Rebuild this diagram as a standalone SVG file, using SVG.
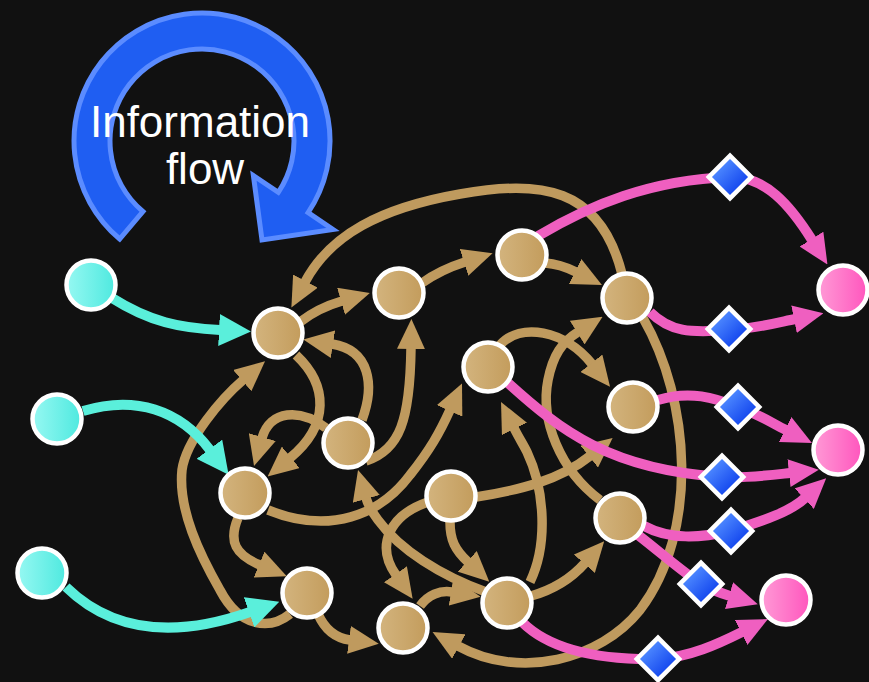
<svg xmlns="http://www.w3.org/2000/svg" width="869" height="682" viewBox="0 0 869 682">
<defs>
<linearGradient id="gGold" x1="0" y1="0" x2="1" y2="0"><stop offset="0" stop-color="#d3b47e"/><stop offset="1" stop-color="#c39c5c"/></linearGradient>
<linearGradient id="gCyan" x1="0" y1="0" x2="1" y2="0"><stop offset="0" stop-color="#96f8f2"/><stop offset="1" stop-color="#4ee9df"/></linearGradient>
<linearGradient id="gPink" x1="0" y1="0" x2="1" y2="0"><stop offset="0" stop-color="#ff9ad6"/><stop offset="1" stop-color="#ff55bd"/></linearGradient>
<linearGradient id="gBlue" x1="0" y1="0" x2="1" y2="0"><stop offset="0" stop-color="#4d88ff"/><stop offset="1" stop-color="#1447ee"/></linearGradient>
<marker id="aGold" viewBox="0 0 30 28" refX="1" refY="14" markerWidth="30" markerHeight="28" markerUnits="userSpaceOnUse" orient="auto"><path d="M0,0 L30,14 L0,28 Z" fill="#bf9a5e"/></marker>
<marker id="aPink" viewBox="0 0 30 28" refX="1" refY="14" markerWidth="30" markerHeight="28" markerUnits="userSpaceOnUse" orient="auto"><path d="M0,0 L30,14 L0,28 Z" fill="#ef5fc0"/></marker>
<marker id="aCyan" viewBox="0 0 32 32" refX="1" refY="16" markerWidth="32" markerHeight="32" markerUnits="userSpaceOnUse" orient="auto"><path d="M0,0 L32,16 L0,32 Z" fill="#5aefdb"/></marker>
</defs>
<style>
.eg{fill:none;stroke:#bf9a5e;stroke-width:9.5;marker-end:url(#aGold)}
.ep{fill:none;stroke:#ef5fc0;stroke-width:10}
.epa{marker-end:url(#aPink)}
.ec{fill:none;stroke:#5aefdb;stroke-width:10;marker-end:url(#aCyan)}
.ng{fill:url(#gGold);stroke:#fff;stroke-width:4.5}
.nc{fill:url(#gCyan);stroke:#fff;stroke-width:4.5}
.np{fill:url(#gPink);stroke:#fff;stroke-width:4.5}
.dm{fill:url(#gBlue);stroke:#fff;stroke-width:4.5}
.t{font-family:"Liberation Sans",Arial,sans-serif;font-size:44px;fill:#fff;text-anchor:middle}
</style>
<rect width="869" height="682" fill="#111111"/>
<g id="info-flow-arrow">
<path d="M 119.7,239 A 128 128 0 1 1 308.1,212.6 L 333,229.4 L 262,240 L 253.4,175.6 L 278.3,192.4 A 92 92 0 1 0 142.9,211.5 Z" fill="#1f5ef2" stroke="#5b8cff" stroke-width="5"/>
<text class="t" x="200" y="137">Information</text>
<text class="t" x="205" y="184">flow</text>
</g>
<g id="connectors">
<g id="gold-edges">
<path class="eg" d="M 622,274 C 600,186 540,180 460,194 C 380,208 330,235 305,282"/>
<path class="eg" d="M 643,318 C 690,400 700,530 640,610 C 600,660 520,680 458,646"/>
<path class="eg" d="M 300,322 Q 318,308 342,301"/>
<path class="eg" d="M 422,283 Q 440,270 465,262"/>
<path class="eg" d="M 545,263 Q 560,264 576,272"/>
<path class="eg" d="M 296,355 C 328,385 330,425 290,458"/>
<path class="eg" d="M 326,428 C 300,408 270,410 262,438"/>
<path class="eg" d="M 362,420 C 375,385 370,350 332,344"/>
<path class="eg" d="M 366,461 C 400,450 410,420 411,348"/>
<path class="eg" d="M 268,510 C 330,535 380,515 410,475 C 430,450 440,432 450,410"/>
<path class="eg" d="M 290,614 C 270,630 240,628 220,590 C 200,555 178,510 182,470 C 186,440 222,398 243,380"/>
<path class="eg" d="M 238,518 C 228,542 236,555 260,565"/>
<path class="eg" d="M 318,614 C 325,630 335,638 350,640"/>
<path class="eg" d="M 428,502 C 390,515 375,545 396,575"/>
<path class="eg" d="M 450,522 C 450,540 455,550 468,562"/>
<path class="eg" d="M 486,592 C 440,575 400,550 378,520 C 372,512 368,505 366,498"/>
<path class="eg" d="M 420,606 C 428,595 440,590 452,592"/>
<path class="eg" d="M 530,582 C 548,545 545,490 527,452 C 523,444 519,438 514,428"/>
<path class="eg" d="M 531,596 C 552,590 570,580 585,563"/>
<path class="eg" d="M 476,497 C 520,490 560,480 590,456"/>
<path class="eg" d="M 500,345 C 520,322 565,330 592,364"/>
<path class="eg" d="M 600,500 C 560,470 540,420 548,380 C 553,355 562,342 578,332"/>
</g>
<g id="cyan-edges">
<path class="ec" d="M 112,298 C 150,322 180,328 220,330"/>
<path class="ec" d="M 83,411 C 135,395 180,410 210,450"/>
<path class="ec" d="M 66,587 C 110,630 170,640 250,612"/>
</g>
<g id="pink-edges">
<path class="ep epa" d="M 538,236 C 590,205 650,180 730,177 C 765,176 790,205 812,240"/>
<path class="ep epa" d="M 650,312 C 670,332 690,333 729,330 C 760,328 780,322 795,319"/>
<path class="ep epa" d="M 658,400 C 690,390 715,398 738,407 C 758,414 772,423 786,430"/>
<path class="ep epa" d="M 508,383 C 560,430 610,470 722,477 C 750,478 772,475 790,473"/>
<path class="ep epa" d="M 644,526 C 670,540 700,538 731,531 C 765,520 790,512 805,498"/>
<path class="ep epa" d="M 638,535 C 660,552 680,570 701,584 C 712,590 720,593 730,596"/>
<path class="ep epa" d="M 522,622 C 550,650 600,660 658,659 C 690,657 718,644 742,632"/>
</g>
</g>
<g id="diamonds">
<g id="d1"><rect class="dm" x="-15" y="-15" width="30" height="30" transform="translate(730,177) rotate(45)"/></g>
<g id="d2"><rect class="dm" x="-15" y="-15" width="30" height="30" transform="translate(729,329) rotate(45)"/></g>
<g id="d3"><rect class="dm" x="-15" y="-15" width="30" height="30" transform="translate(738,407) rotate(45)"/></g>
<g id="d4"><rect class="dm" x="-15" y="-15" width="30" height="30" transform="translate(722,477) rotate(45)"/></g>
<g id="d5"><rect class="dm" x="-15" y="-15" width="30" height="30" transform="translate(731,531) rotate(45)"/></g>
<g id="d6"><rect class="dm" x="-15" y="-15" width="30" height="30" transform="translate(701,584) rotate(45)"/></g>
<g id="d7"><rect class="dm" x="-15" y="-15" width="30" height="30" transform="translate(658,659) rotate(45)"/></g>
</g>
<g id="nodes">
<g id="in1"><circle class="nc" cx="91" cy="285" r="24.5"/></g>
<g id="in2"><circle class="nc" cx="57" cy="419" r="24.5"/></g>
<g id="in3"><circle class="nc" cx="42" cy="573" r="24.5"/></g>
<g id="nA"><circle class="ng" cx="278" cy="333" r="24.5"/></g>
<g id="nB"><circle class="ng" cx="399" cy="293" r="24.5"/></g>
<g id="nC"><circle class="ng" cx="522" cy="255" r="24.5"/></g>
<g id="nD"><circle class="ng" cx="627" cy="298" r="24.5"/></g>
<g id="nE"><circle class="ng" cx="488" cy="367" r="24.5"/></g>
<g id="nF"><circle class="ng" cx="348" cy="443" r="24.5"/></g>
<g id="nG"><circle class="ng" cx="245" cy="493" r="24.5"/></g>
<g id="nH"><circle class="ng" cx="451" cy="496" r="24.5"/></g>
<g id="nI"><circle class="ng" cx="633" cy="407" r="24.5"/></g>
<g id="nJ"><circle class="ng" cx="620" cy="518" r="24.5"/></g>
<g id="nK"><circle class="ng" cx="307" cy="593" r="24.5"/></g>
<g id="nL"><circle class="ng" cx="403" cy="628" r="24.5"/></g>
<g id="nM"><circle class="ng" cx="507" cy="603" r="24.5"/></g>
<g id="out1"><circle class="np" cx="843" cy="290" r="24.5"/></g>
<g id="out2"><circle class="np" cx="838" cy="450" r="24.5"/></g>
<g id="out3"><circle class="np" cx="786" cy="600" r="24.5"/></g>
</g>
</svg>
